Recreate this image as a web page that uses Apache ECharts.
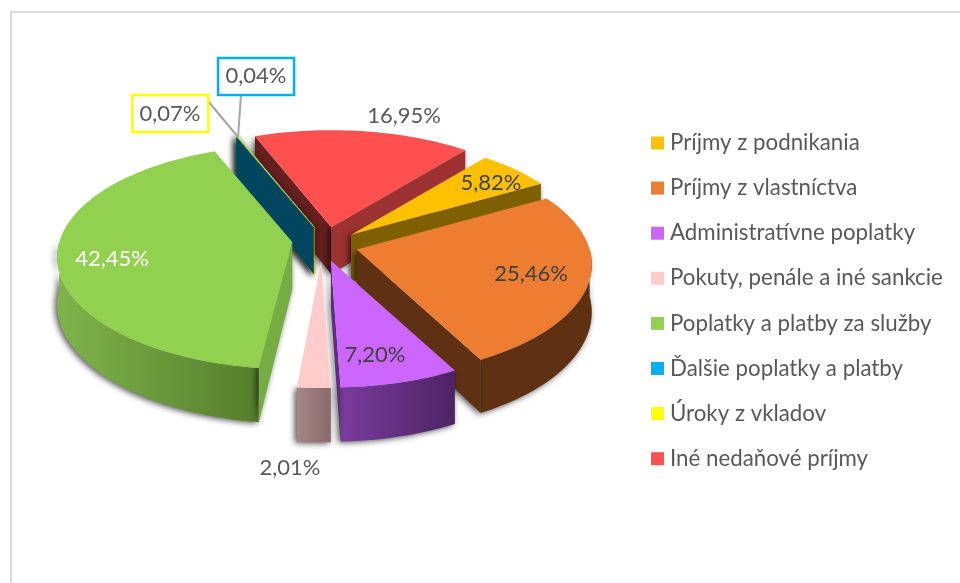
<!DOCTYPE html>
<html style="height: 100%">
<head>
<meta charset="utf-8">
<script src="https://cdn.jsdelivr.net/npm/echarts@6/dist/echarts.min.js"></script>
</head>
<body style="height: 100%; margin: 0; background: #fff">
<div id="container" style="width: 960px; height: 583px"></div>
<script type="text/javascript">
// data
var categories = ['Príjmy z podnikania', 'Príjmy z vlastníctva', 'Administratívne poplatky', 'Pokuty, penále a iné sankcie',
	'Poplatky a platby za služby', 'Ďalšie poplatky a platby', 'Úroky z vkladov', 'Iné nedaňové príjmy'];
var shares = [5.82, 25.46, 7.20, 2.01, 42.45, 0.04, 0.07, 16.95];
var colors = ['#ffc000', '#ed7d31', '#cc66ff', '#ffcccc', '#92d050', '#00b0f0', '#ffff00', '#ff5050'];

// look of the walls, same order as categories
var wallColors = ['#7f6000', '#5f3112', '#5e2d80', '#8c6d6d', '#76ad42', '#00465f', '#7f7f00', '#9c3232'];
var startWallColors = ['#7f6000', '#5f3112', '#5e2d80', '#8c6d6d', '#76ad42', '#00465f', '#7f7f00', '#641f1f'];
var rimGradients = [null, null, ['#7b3b9f', '#4c2463'], ['#a58686', '#8a6a6a'], ['#7eb54a', '#567d2c'], null, null, null];

// pie projection (pixels)
var cx = 325, cy = 245;
var rx = 233, ry = 110, persp = 0.134, depth = 47;
var explodeX = 34, explodeY = 16;
var firstAngle = 39.4;
// small per slice corrections, the original 3d view is not a clean projection
var nudges = [[0, 0], [-1, 0], [-3, 0], [-3, 0], [1, -5], [1.5, -3], [1.5, -3], [1, -2]];
var startTrims = [0, 0, 0, 0, 2, 0, 0, 0];

// label spots, same order as categories
var labelSpots = [[491, 183], [531, 274], [375, 355], [290, 468], [112, 259], [256, 76], [170, 114], [404, 116]];
var labelFill = ['#404040', '#404040', '#404040', '#595959', '#ffffff', '#595959', '#595959', '#595959'];
var labelBoxes = {5: [218, 58, 76, 37, '#00b0f0'], 6: [132, 95, 76, 37, '#ffff00']};
var leaders = {5: [[241, 95], [238, 137]], 6: [[208, 101], [238, 137]]};

// painter's order, back of the pie first
var zOf = [3, 6, 7, 9, 5, 2, 1, 0];

var rad = Math.PI / 180;

function sliceAngles(i) {
	var sum = 0;
	for (var k = 0; k < i; k++) sum += shares[k];
	return [firstAngle + sum * 3.6 + startTrims[i], firstAngle + (sum + shares[i]) * 3.6];
}

function renderSlice(i) {
	return function (params, api) {
		var a = sliceAngles(i), a1 = a[0], a2 = a[1], mid = (a1 + a2) / 2;
		var children = [];
		var shadow = {shadowBlur: 6, shadowColor: 'rgba(0,0,0,0.7)', shadowOffsetX: -2, shadowOffsetY: 1};

		// theta is clockwise from top, level 0 = top face, 1 = bottom face
		function project(r, theta, level) {
			var u = Math.cos(theta * rad), v = Math.sin(theta * rad);
			var g = 1 / (1 + persp * u * r);
			var x = cx + nudges[i][0] + explodeX * Math.sin(mid * rad) + r * rx * v * g;
			var y = cy + nudges[i][1] - explodeY * Math.cos(mid * rad) - r * ry * u * g + level * depth * g;
			return [x, y];
		}

		// outer rim, front half only
		var from = Math.max(a1, 90), to = Math.min(a2, 270);
		if (to > from) {
			var upper = [], lower = [];
			for (var t = from; t < to; t += 1.5) {
				upper.push(project(1, t, 0));
				lower.unshift(project(1, t, 1));
			}
			upper.push(project(1, to, 0));
			lower.unshift(project(1, to, 1));
			var fill = wallColors[i];
			if (rimGradients[i]) {
				fill = new echarts.graphic.LinearGradient(0, 0, 1, 0, [
					{offset: 0, color: rimGradients[i][0]},
					{offset: 1, color: rimGradients[i][1]}
				]);
			}
			children.push({type: 'polygon', shape: {points: upper.concat(lower)},
				style: Object.assign({fill: fill}, shadow)});
		}

		// cut walls that face the viewer
		function wall(theta, color) {
			var pts = [project(0, theta, 0), project(1, theta, 0), project(1, theta, 1), project(0, theta, 1)];
			var st = Object.assign({fill: color}, shadow);
			if (i == 6) { st.stroke = '#ffff00'; st.lineWidth = 1.2; }
			children.push({type: 'polygon', shape: {points: pts}, style: st});
		}
		if (Math.sin(a1 * rad) < 0) wall(a1, startWallColors[i]);
		if (Math.sin(a2 * rad) > 0) wall(a2, wallColors[i]);

		// top face
		var top = [project(0, a1, 0)];
		for (var t2 = a1; t2 < a2; t2 += 1.5) top.push(project(1, t2, 0));
		top.push(project(1, a2, 0));
		var topStyle = {fill: colors[i]};
		if (i == 6) { topStyle.stroke = '#ffff00'; topStyle.lineWidth = 1; }
		children.push({type: 'polygon', shape: {points: top}, style: topStyle});

		return {type: 'group', children: children};
	};
}

function renderLabel(params, api) {
	var i = params.dataIndex;
	var children = [];
	if (leaders[i]) {
		children.push({type: 'polyline', shape: {points: leaders[i]}, style: {fill: 'none', stroke: '#a6a6a6', lineWidth: 2}});
	}
	if (labelBoxes[i]) {
		var b = labelBoxes[i];
		children.push({type: 'rect', shape: {x: b[0], y: b[1], width: b[2], height: b[3]},
			style: {fill: '#fff', stroke: b[4], lineWidth: 2.5}});
	}
	children.push({type: 'text', style: {
		text: api.value(0).toFixed(2).replace('.', ',') + '%',
		x: labelSpots[i][0], y: labelSpots[i][1],
		align: 'center', verticalAlign: 'middle',
		font: '22px Lato', fill: labelFill[i]
	}});
	return {type: 'group', children: children};
}

var series = [];
for (var i = 0; i < categories.length; i++) {
	series.push({
		name: categories[i],
		type: 'custom',
		coordinateSystem: 'none',
		silent: true,
		animation: false,
		z: 10 + zOf[i],
		itemStyle: {color: colors[i]},
		renderItem: renderSlice(i),
		data: [[shares[i]]]
	});
}
series.push({
	name: 'labels',
	type: 'custom',
	coordinateSystem: 'none',
	silent: true,
	animation: false,
	z: 40,
	renderItem: renderLabel,
	data: shares.map(function (v) { return [v]; })
});

var myChart = echarts.init(document.getElementById('container'), null, {renderer: 'canvas'});
var option = {
	animation: false,
	backgroundColor: '#ffffff',
	graphic: [{
		type: 'rect',
		shape: {x: 11, y: 12, width: 1000, height: 1000},
		style: {fill: 'none', stroke: '#d9d9d9', lineWidth: 2},
		silent: true
	}],
	legend: {
		data: categories,
		orient: 'vertical',
		left: 651,
		top: 131,
		padding: 0,
		icon: 'rect',
		itemWidth: 13,
		itemHeight: 13,
		itemGap: 21.1,
		selectedMode: false,
		textStyle: {fontFamily: 'Lato', fontSize: 22.3, color: '#595959', lineHeight: 24, padding: [0, 0, 0, 1]}
	},
	series: series
};
myChart.setOption(option);
</script>
</body>
</html>
